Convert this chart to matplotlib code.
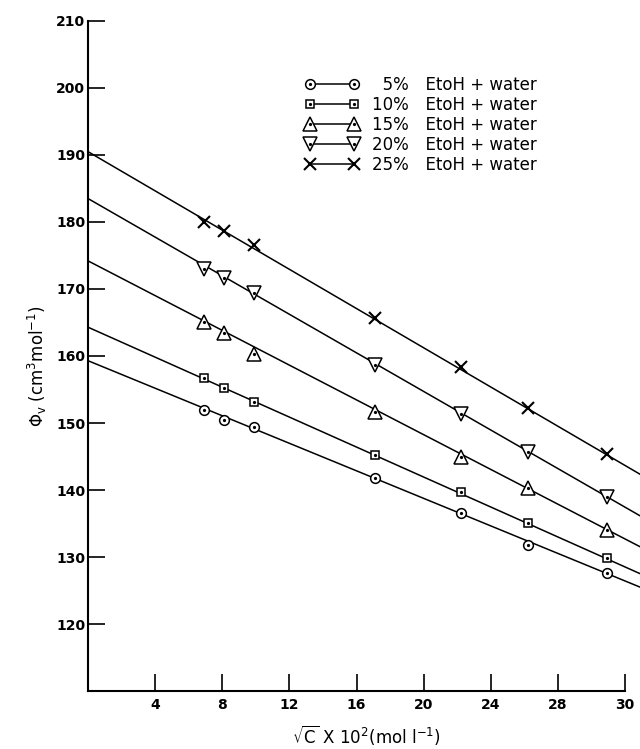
import numpy as np
import matplotlib.pyplot as plt
from matplotlib.lines import Line2D

# sqrt(C) x 10^2 positions of the measured points (same for every series)
sqrt_c = [6.9, 8.1, 9.9, 17.1, 22.2, 26.2, 30.9]

phi_5 = [152.0, 150.4, 149.4, 141.8, 136.6, 131.8, 127.6]
phi_10 = [156.7, 155.2, 153.1, 145.2, 139.7, 135.1, 129.8]
phi_15 = [165.1, 163.5, 160.3, 151.7, 145.0, 140.3, 134.1]
phi_20 = [173.0, 171.6, 169.4, 158.6, 151.4, 145.6, 139.0]
phi_25 = [180.0, 178.7, 176.5, 165.6, 158.3, 152.2, 145.3]

# straight fit lines, read at the y axis and at the right edge of the figure
fit_x = [0, 33]
fit_5 = [159.3, 125.4]
fit_10 = [164.3, 127.4]
fit_15 = [174.2, 131.4]
fit_20 = [183.5, 136.0]
fit_25 = [190.5, 142.2]

labels = ['\u20075%', '10%', '15%', '20%', '25%']
x_ticks = [4, 8, 12, 16, 20, 24, 28, 32]
x_ticklabels = ['4', '8', '12', '16', '20', '24', '28', '30']
y_ticks = [120, 130, 140, 150, 160, 170, 180, 190, 200, 210]

plt.rcParams['font.family'] = 'DejaVu Sans'
plt.rcParams['mathtext.fontset'] = 'dejavusans'

fig = plt.figure(figsize=(6.4, 7.49), dpi=100)
ax = fig.add_axes([0.1375, 0.0774, 0.8391, 0.8946])

series = [
    (phi_5, fit_5, 'o', 7.0, True),
    (phi_10, fit_10, 's', 6.0, True),
    (phi_15, fit_15, '^', 10.0, True),
    (phi_20, fit_20, 'v', 10.0, True),
    (phi_25, fit_25, 'x', 8.0, False),
]

handles = []
for (vals, fit, mk, ms, dot), lab in zip(series, labels):
    mew = 1.5 if mk == 'x' else 1.1
    ax.plot(fit_x, fit, color='black', linewidth=1.1, clip_on=False, zorder=2)
    ax.plot(sqrt_c, vals, linestyle='none', marker=mk, markersize=ms,
            markerfacecolor='white', markeredgecolor='black',
            markeredgewidth=mew, zorder=3)
    h = Line2D([], [], color='black', linewidth=1.1, marker=mk, markersize=ms,
               markerfacecolor='white', markeredgecolor='black',
               markeredgewidth=mew)
    if dot:
        ax.plot(sqrt_c, vals, linestyle='none', marker='o', markersize=1.3,
                color='black', zorder=4)
        hd = Line2D([], [], linestyle='none', marker='o', markersize=1.3,
                    color='black')
        h = (h, hd)
    handles.append((h, lab + '\u2002\u2002EtoH + water'))

ax.legend([h for h, _ in handles], [t for _, t in handles], numpoints=2,
          loc='upper left', bbox_to_anchor=(0.405, 0.918), frameon=False,
          fontsize=12, handlelength=3.2, handletextpad=0.8,
          labelspacing=0.12, borderpad=0, borderaxespad=0)

ax.set_xlim(0, 32)
ax.set_ylim(110, 210)
ax.set_xticks(x_ticks)
ax.set_xticklabels(x_ticklabels)
ax.set_yticks(y_ticks)

ax.spines['top'].set_visible(False)
ax.spines['right'].set_visible(False)
ax.spines['left'].set_linewidth(1.5)
ax.spines['bottom'].set_linewidth(1.5)
ax.tick_params(axis='both', direction='in', length=12, width=1.2,
               labelsize=10)
ax.tick_params(axis='y', pad=2)
ax.tick_params(axis='x', pad=5)
for t in ax.get_xticklabels() + ax.get_yticklabels():
    t.set_fontweight('bold')

ax.set_xlabel(r'$\sqrt{\mathrm{C}}$ X 10$^{2}$(mol l$^{-1}$)', fontsize=12,
              va='center')
ax.xaxis.set_label_coords(0.518, -0.066)
ax.set_ylabel(r'$\Phi_{\mathrm{v}}$ (cm$^{3}$mol$^{-1}$)', fontsize=12,
              va='center')
ax.yaxis.set_label_coords(-0.095, 0.485)

fig.savefig('out.png', dpi=100)
